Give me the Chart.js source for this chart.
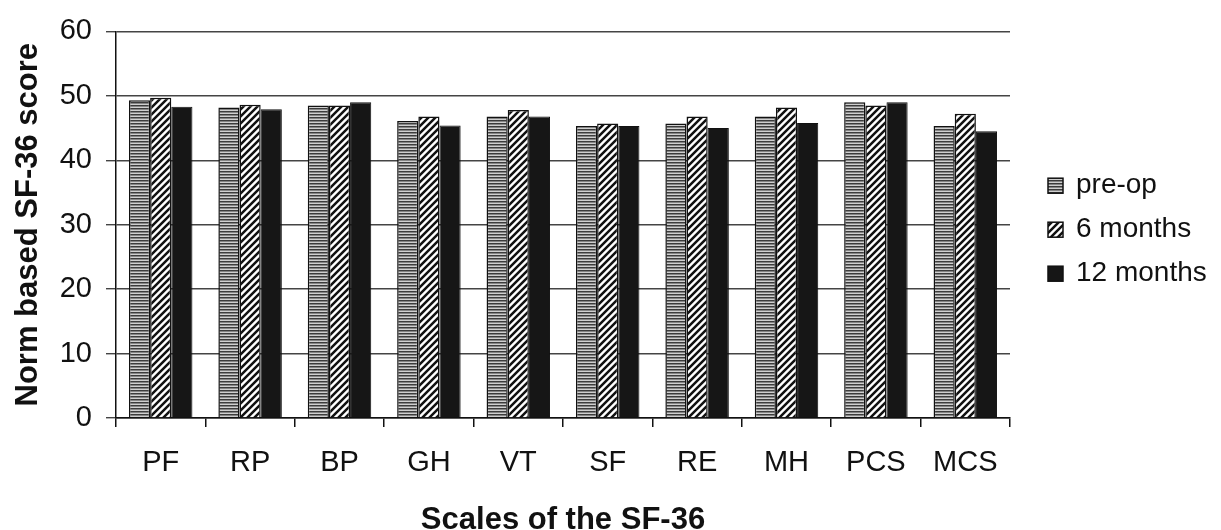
<!DOCTYPE html>
<html>
<head>
<meta charset="utf-8">
<script src="https://cdn.jsdelivr.net/npm/chart.js@4.4.1/dist/chart.umd.min.js"></script>
<style>
    html, body { margin: 0; padding: 0; background: #fff; }
    #wrap { width: 1221px; height: 530px; }
</style>
</head>
<body>
<div id="wrap"><canvas id="sf36_chart"></canvas></div>
<script>
// values
const scale_names = ['PF', 'RP', 'BP', 'GH', 'VT', 'SF', 'RE', 'MH', 'PCS', 'MCS'];
const pre_op = [49.3, 48.2, 48.5, 46.1, 46.8, 45.3, 45.7, 46.8, 49.0, 45.3];
const six_months = [49.7, 48.6, 48.5, 46.8, 47.8, 45.7, 46.8, 48.2, 48.5, 47.2];
const twelve_months = [48.3, 47.9, 49.0, 45.4, 46.8, 45.3, 45.0, 45.8, 49.0, 44.5];
const y_ticks = [0, 10, 20, 30, 40, 50, 60];
const series_names = ['pre-op', '6 months', '12 months'];

const font_family = '"Liberation Sans", Arial, sans-serif';
const ink = '#111';

// horizontal grey stripes
function stripes() {
    let c = document.createElement('canvas');
    c.width = 4; c.height = 3;
    let x = c.getContext('2d');
    x.fillStyle = '#cfcfcf';
    x.fillRect(0, 0, 4, 3);
    x.fillStyle = '#3c3c3c';
    x.fillRect(0, 0, 4, 1.5);
    return x.createPattern(c, 'repeat');
}

// black "/" hatch on white
function hatch() {
    const s = 7;
    let c = document.createElement('canvas');
    c.width = s; c.height = s;
    let x = c.getContext('2d');
    x.fillStyle = '#fff';
    x.fillRect(0, 0, s, s);
    x.strokeStyle = ink;
    x.lineWidth = 2.5;
    x.beginPath();
    x.moveTo(-1, s + 1); x.lineTo(s + 1, -1);
    x.moveTo(-1, 1); x.lineTo(1, -1);
    x.moveTo(s - 1, s + 1); x.lineTo(s + 1, s - 1);
    x.stroke();
    return x.createPattern(c, 'repeat');
}

// legend on the right, drawn from the datasets
const side_legend = {
    id: 'side_legend',
    afterDraw(chart) {
        const ctx = chart.ctx;
        const area = chart.chartArea;
        const mid = (area.top + area.bottom) / 2 + 5;
        ctx.save();
        ctx.font = '28px ' + font_family;
        ctx.textBaseline = 'middle';
        chart.data.datasets.forEach((ds, i) => {
            const y = mid + (i - 1) * 44;
            const x = area.right + 38;
            ctx.fillStyle = ds.backgroundColor;
            ctx.fillRect(x, y - 7.5, 15, 15);
            ctx.strokeStyle = ink;
            ctx.lineWidth = 1.5;
            ctx.strokeRect(x, y - 7.5, 15, 15);
            ctx.fillStyle = ink;
            ctx.fillText(ds.label, x + 28, y);
        });
        ctx.restore();
    }
};

var chart = new Chart(document.getElementById('sf36_chart').getContext('2d'), {
    type: 'bar',
    data: {
        labels: scale_names,
        datasets: [
            { label: series_names[0], data: pre_op, backgroundColor: stripes(), borderColor: ink, borderWidth: 1.5 },
            { label: series_names[1], data: six_months, backgroundColor: hatch(), borderColor: ink, borderWidth: 1.5 },
            { label: series_names[2], data: twelve_months, backgroundColor: '#161616', borderColor: ink, borderWidth: 1 }
        ]
    },
    options: {
        responsive: true,
        maintainAspectRatio: false,
        animation: false,
        layout: { padding: { top: 27, right: 211, left: 0, bottom: 0 } },
        datasets: { bar: { categoryPercentage: 0.71, barPercentage: 1.0 } },
        plugins: { legend: { display: false }, tooltip: { enabled: false } },
        scales: {
            x: {
                grid: { offset: true, drawOnChartArea: false, tickLength: 9, color: ink, lineWidth: 1.5 },
                border: { color: ink, width: 1.5 },
                ticks: { color: ink, padding: 19, font: { family: font_family, size: 29 } },
                title: {
                    display: true, text: 'Scales of the SF-36', color: ink,
                    padding: { top: 0, bottom: 0 },
                    font: { family: font_family, size: 31, weight: 'bold', lineHeight: 0.6 }
                },
                afterFit: s => { s.height = 112; }
            },
            y: {
                min: 0, max: 60,
                afterBuildTicks: s => { s.ticks = y_ticks.map(v => ({ value: v })); },
                grid: { color: '#444', lineWidth: 1.4, tickLength: 10 },
                border: { color: ink, width: 1.5 },
                ticks: { color: ink, padding: 14, font: { family: font_family, size: 29 } },
                title: {
                    display: true, text: 'Norm based SF-36 score', color: ink,
                    padding: { top: 13, bottom: 0 },
                    font: { family: font_family, size: 31, weight: 'bold', lineHeight: 1 }
                },
                afterFit: s => { s.width = 116; }
            }
        }
    },
    plugins: [side_legend]
});
</script>
</body>
</html>
